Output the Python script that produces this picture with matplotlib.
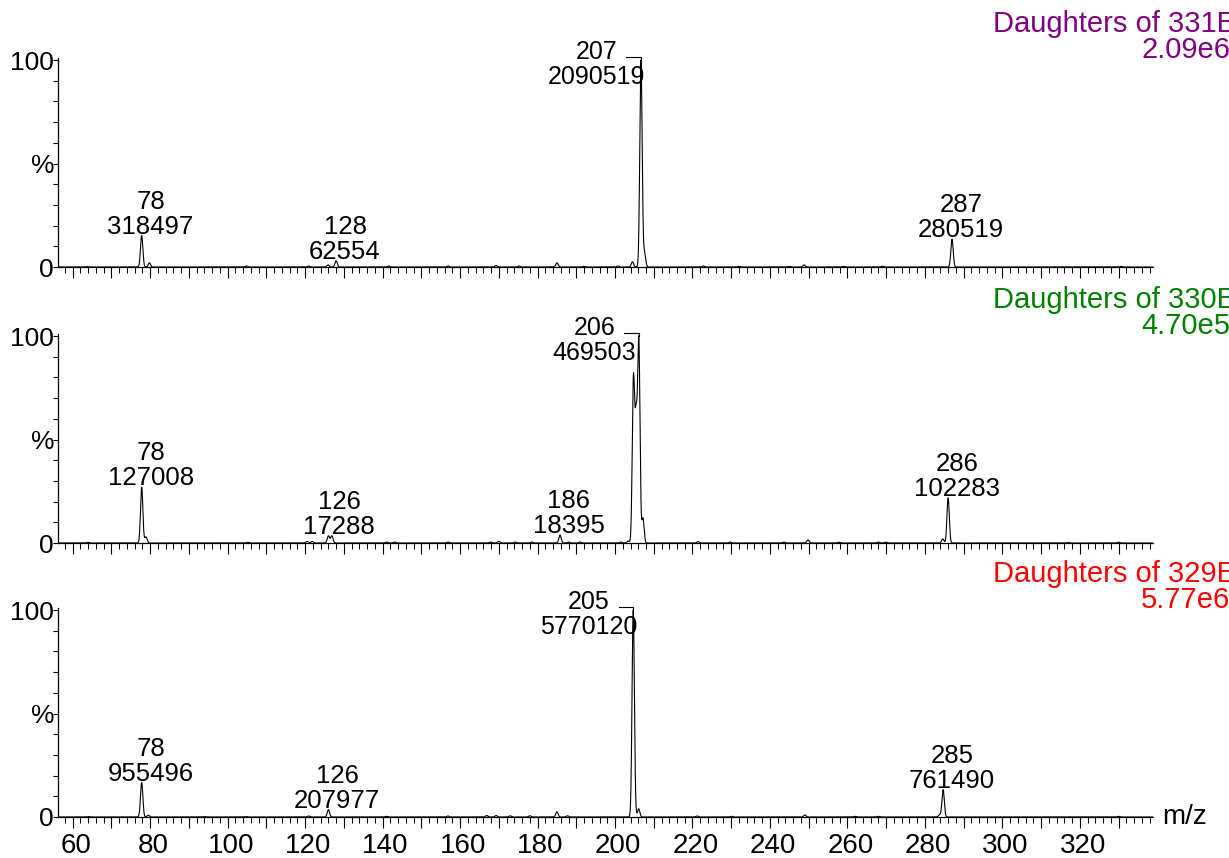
import numpy as np
import matplotlib.pyplot as plt
import matplotlib.transforms as mtransforms
from matplotlib.ticker import MultipleLocator, FixedLocator, FixedFormatter, FuncFormatter

plt.rcParams['font.family'] = ['Liberation Sans', 'DejaVu Sans']
plt.rcParams['font.size'] = 18

# panel headers
titles = ['Daughters of 331E', 'Daughters of 330E', 'Daughters of 329E']
bpi = ['2.09e6', '4.70e5', '5.77e6']
colors = ['#800080', '#008000', '#ff0000']

# peak centroids (m/z) and relative intensity (%)
mz_331 = [63.7, 77.8, 79.8, 104.9, 120.9, 125.9, 128.0, 141.6, 156.9, 169.3, 175.2,
          185.0, 191.9, 200.7, 204.5, 206.7, 207.6, 222.8, 232.0, 245.0, 248.8,
          259.0, 269.0, 287.0, 330.6]
int_331 = [0.2, 15.2, 2.0, 0.5, 0.5, 1.0, 3.0, 0.5, 0.5, 0.7, 0.5,
           2.0, 0.3, 0.5, 2.5, 100.0, 7.0, 0.5, 0.3, 0.3, 1.0,
           0.3, 0.4, 13.4, 0.3]

mz_330 = [64.0, 77.8, 78.9, 105.2, 120.5, 121.8, 126.0, 126.9, 141.0, 143.0, 156.9,
          167.9, 170.0, 174.3, 178.5, 185.8, 188.0, 191.0, 201.5, 203.4, 204.75,
          205.45, 206.15, 207.2, 221.4, 229.7, 243.6, 249.8, 257.8, 268.0, 269.9,
          284.6, 286.0, 317.0, 330.0]
int_330 = [0.3, 27.0, 3.0, 0.3, 0.8, 0.8, 3.5, 3.5, 0.5, 0.5, 0.5,
           0.5, 0.8, 0.5, 0.5, 3.9, 0.5, 0.5, 0.5, 1.0, 78.0,
           56.0, 96.0, 12.0, 0.7, 0.5, 0.5, 1.5, 0.4, 0.5, 0.4,
           2.0, 21.8, 0.2, 0.4]

mz_329 = [64.0, 77.8, 79.5, 94.0, 104.7, 120.9, 126.0, 141.0, 156.9, 166.9, 169.3,
          172.9, 178.0, 185.0, 187.7, 204.7, 206.1, 221.2, 230.0, 249.0, 262.0,
          268.0, 283.8, 284.7, 330.0]
int_329 = [0.2, 16.6, 0.8, 0.2, 0.2, 0.5, 3.6, 0.3, 0.5, 0.7, 0.7,
           0.6, 0.6, 2.5, 0.6, 100.0, 4.0, 0.5, 0.3, 1.0, 0.3,
           0.3, 1.0, 13.2, 0.3]

# annotated peaks: nominal m/z, centroid, absolute intensity
lab_331 = [78, 128, 207, 287]
pos_331 = [77.8, 128.0, 206.7, 287.0]
abs_331 = [318497, 62554, 2090519, 280519]

lab_330 = [78, 126, 186, 206, 286]
pos_330 = [77.8, 126.5, 185.8, 206.15, 286.0]
abs_330 = [127008, 17288, 18395, 469503, 102283]

lab_329 = [78, 126, 205, 285]
pos_329 = [77.8, 126.0, 204.7, 284.7]
abs_329 = [955496, 207977, 5770120, 761490]

panels = [
    (mz_331, int_331, lab_331, pos_331, abs_331),
    (mz_330, int_330, lab_330, pos_330, abs_330),
    (mz_329, int_329, lab_329, pos_329, abs_329),
]

xmin, xmax = 56.2, 338.9
grid = np.arange(xmin, xmax, 0.02)
sigma = 0.3

fig = plt.figure(figsize=(12.29, 8.58), dpi=100)

bottoms = [0.6888, 0.3671, 0.0478]
height = 0.2436
left, width = 0.0472, 0.8910

for i, (mz, inten, labs, pos, absv) in enumerate(panels):
    ax = fig.add_axes([left, bottoms[i], width, height])

    # profile spectrum from the centroid list
    prof = np.zeros_like(grid)
    for c, h in zip(mz, inten):
        prof += h * np.exp(-0.5 * ((grid - c) / sigma) ** 2)
    ax.plot(grid, prof, color='black', lw=0.8)

    ax.set_xlim(xmin, xmax)
    ax.set_ylim(0, 101)
    ax.spines['top'].set_visible(False)
    ax.spines['right'].set_visible(False)
    ax.spines['left'].set_linewidth(0.9)
    ax.spines['bottom'].set_linewidth(0.9)

    # y axis: 0 / % / 100
    ax.yaxis.set_major_locator(FixedLocator([0, 50, 100]))
    ax.yaxis.set_major_formatter(FixedFormatter(['0', '%', '100']))
    ax.yaxis.set_minor_locator(MultipleLocator(10))
    ax.tick_params(axis='y', which='both', length=3.8, width=0.8, pad=-1,
                   labelsize=19)

    # x axis: long ticks every 10, short every 2, labels every 20
    ax.xaxis.set_major_locator(MultipleLocator(10))
    ax.xaxis.set_minor_locator(MultipleLocator(2))
    ax.xaxis.set_major_formatter(
        FuncFormatter(lambda v, p: f'{v:.0f}' if round(v) % 20 == 0 else ''))
    ax.tick_params(axis='x', which='major', length=8.2, width=0.8, pad=3,
                   labelsize=20, colors='black')
    ax.tick_params(axis='x', which='minor', length=4.6, width=0.7)
    if i < 2:
        ax.tick_params(axis='x', labelbottom=False)
    else:
        shift = mtransforms.ScaledTranslation(3 / 100, 0, fig.dpi_scale_trans)
        for lbl in ax.get_xticklabels():
            lbl.set_transform(lbl.get_transform() + shift)

    # peak annotations
    top_abs = max(absv)
    for m, p, a in zip(labs, pos, absv):
        rel = 100.0 * a / top_abs
        if a == top_abs:
            ax.text(p - 11.5, 98, f'{m}\n{a}', ha='center', va='center',
                    linespacing=1.05, fontsize=18)
            ax.plot([p - 3.8, p, p], [101.5, 101.5, 100], color='black',
                    lw=0.8, clip_on=False)
        else:
            ax.text(p + 2.3, rel - 1.5, f'{m}\n{a}', ha='center', va='bottom',
                    linespacing=1.05, fontsize=18.5)

    # header at the right
    top = bottoms[i] + height
    fig.text(0.808, top + 34 / 858, titles[i], color=colors[i], fontsize=21,
             ha='left', va='center')
    fig.text(0.9284, top + 8 / 858, bpi[i], color=colors[i], fontsize=21,
             ha='left', va='center')

    if i == 2:
        ax.text(1.008, 0.0, 'm/z', transform=ax.transAxes, ha='left',
                va='center', fontsize=20)

fig.savefig('out.png', dpi=100)
